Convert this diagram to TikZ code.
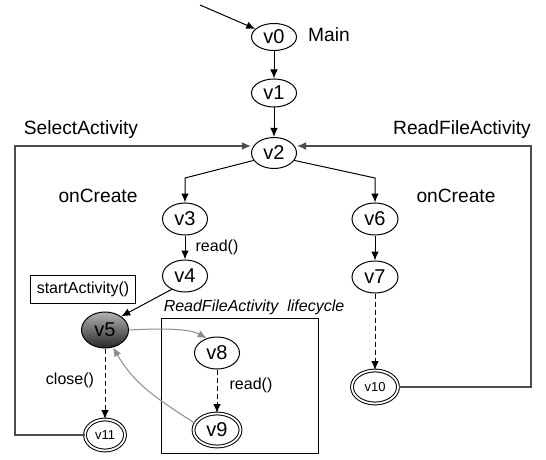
\documentclass[tikz,border=0pt]{standalone}
\usepackage{fontspec}
\setmainfont{Liberation Sans}
\usetikzlibrary{shapes.geometric,arrows.meta}

\tikzset{
  st/.style={ellipse, draw, inner sep=0pt, minimum width=22.5pt, minimum height=16pt,
    font=\fontsize{10}{11}\selectfont},
  fin/.style={st, double, double distance=0.9pt},
  arr/.style={-{Latex[length=4.5pt,width=3.8pt]}},
  dsh/.style={arr, dash pattern=on 2.5pt off 1.5pt},
  back/.style={arr, draw=black!70, line width=0.6pt},
  life/.style={arr, draw=black!45},
  lbl/.style={font=\fontsize{9.6}{11}\selectfont},
  call/.style={font=\fontsize{8}{10}\selectfont}
}

\begin{document}
\begin{tikzpicture}[x=0.5pt,y=-0.5pt,line width=0.5pt]
        \useasboundingbox (0,0) rectangle (546,460);

        % stati
        \node[st, minimum height=13.5pt] (v0) at (274,37) {v0};
        \node[st, minimum height=14pt] (v1) at (274,93) {v1};
        \node[st, minimum height=15.5pt] (v2) at (274,153) {v2};
        \node[st] (v3) at (185,219) {v3};
        \node[st] (v4) at (185,276) {v4};
        \node[st, minimum width=23.5pt, minimum height=18pt,
              top color=black!30, bottom color=black!85] (v5) at (105,330) {v5};
        \node[st, minimum width=23pt] (v6) at (375,219) {v6};
        \node[st, minimum width=23pt] (v7) at (375,277) {v7};
        \node[st] (v8) at (217,353) {v8};
        \node[fin, minimum width=23.5pt, minimum height=16.5pt] (v9) at (217,430) {v9};
        \node[fin, minimum width=23pt, minimum height=16.5pt,
              font=\fontsize{6.5}{8}\selectfont] (v10) at (375,387) {v10};
        \node[fin, minimum width=20pt, minimum height=15.5pt,
              font=\fontsize{6.5}{8}\selectfont] (v11) at (105,435) {v11};

        % etichette
        \node[lbl] (main) at (329,35) {Main};
        \node[lbl] (sel) at (81,130) {SelectActivity};
        \node[lbl] (rfa) at (462,130) {ReadFileActivity};
        \node[lbl] (oncl) at (98,196) {onCreate};
        \node[lbl] (oncr) at (456,196) {onCreate};
        \node[call] (rd1) at (217,247) {read()};
        \node[call] (rd2) at (251,385) {read()};
        \node[call] (cls) at (70,380) {close()};
        \node[call, draw, minimum width=52pt, minimum height=13.5pt] (sta) at (83,289.5) {startActivity()};
        \node[call, font=\fontsize{8}{10}\selectfont\itshape] (lct) at (254,307) {ReadFileActivity\ \ lifecycle};

        % riquadro lifecycle
        \draw (161,318) rectangle (318,453);

        % transizioni
        \coordinate (in) at (200,5);
        \draw[arr] (in) -- (v0);
        \draw[arr] (v0) -- (v1);
        \draw[arr] (v1) -- (v2);
        \draw[arr] (v2.200) -- (v3 |- 0,178) -- (v3);
        \draw[arr] (v2.340) -- (v6 |- 0,178) -- (v6);
        \draw[arr] (v3) -- (v4);
        \draw[arr] (v6) -- (v7);
        \draw[arr] (v4.225) -- (v5.40);
        \draw[dsh] (v7) -- (v10);
        \draw[dsh] (v5) -- (v11);
        \draw[dsh] (v8) -- (v9);
        \draw[life] (v5.east) .. controls (165,328) and (190,329) .. (v8.125);
        \draw[life] (v9.163) to[out=147,in=-60] (v5.295);

        % ritorni
        \coordinate (lc) at (15,146);
        \coordinate (rc) at (531,146);
        \draw[back] (v11.west) -- (lc |- v11.west) -- (lc) -- (v2.west |- lc);
        \draw[back] (v10.east) -- (rc |- v10.east) -- (rc) -- (v2.east |- lc);
\end{tikzpicture}
\end{document}
